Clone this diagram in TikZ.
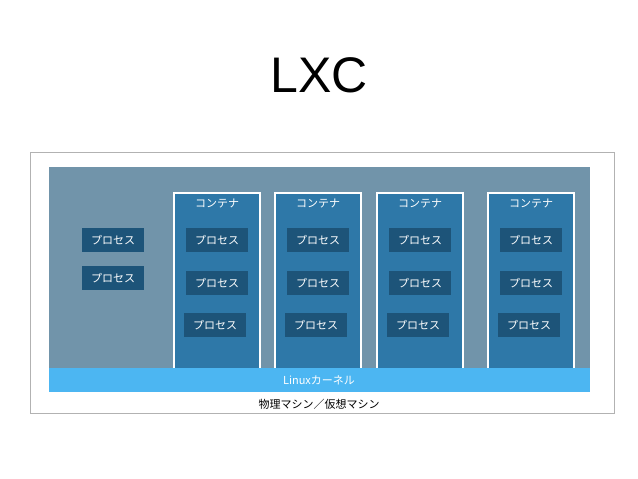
\documentclass[tikz,border=0pt]{standalone}
\usepackage{fontspec}
\setmainfont{Liberation Sans}
\newfontfamily\jp{Noto Sans CJK JP}
\definecolor{panel}{HTML}{7194AA}
\definecolor{cont}{HTML}{2E78A8}
\definecolor{proc}{HTML}{1D5479}
\definecolor{kern}{HTML}{4CB6F2}
\tikzset{
 procbox/.style={fill=proc,text=white,minimum width=62pt,minimum height=24pt,inner sep=0pt,font=\jp\fontsize{11}{11}\selectfont},
 contbox/.style={fill=cont,draw=white,line width=1.5pt},
 lbl/.style={font=\jp\fontsize{11}{11}\selectfont,inner sep=0pt}
}
\begin{document}
\begin{tikzpicture}[x=1pt,y=-1pt]
\useasboundingbox (0,0) rectangle (638,479);
\node[font=\fontsize{50}{50}\selectfont] (title) at (319,75) {LXC};
\draw[draw=black!30,line width=1pt] (30,152) rectangle (614,413);
\fill[panel] (49,167) rectangle (590,392);
\foreach \x [count=\i] in {217,318,420,531}{
  \draw[contbox] (\x-43,193) rectangle (\x+43,372);
  \node[lbl,text=white] (c\i) at (\x,204) {コンテナ};
  \node[procbox] (p\i a) at (\x,240) {プロセス};
  \node[procbox] (p\i b) at (\x,283) {プロセス};
  \node[procbox] (p\i c) at (\x-2,325) {プロセス};
}
\node[procbox] (h1) at (113,240) {プロセス};
\node[procbox] (h2) at (113,278) {プロセス};
\fill[kern] (49,368) rectangle (590,392);
\node[lbl,text=white] (k) at (319,380) {Linuxカーネル};
\node[lbl] (m) at (319,404) {物理マシン／仮想マシン};
\end{tikzpicture}
\end{document}
